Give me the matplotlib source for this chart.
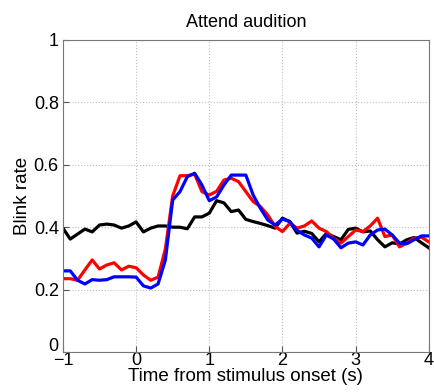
import numpy as np
import matplotlib
matplotlib.use('Agg')
from matplotlib import pyplot as plt
from matplotlib.ticker import FuncFormatter
from matplotlib.transforms import ScaledTranslation

plt.rcParams['font.family'] = ['Liberation Sans', 'DejaVu Sans']

time = np.round(np.arange(-1.0, 4.0001, 0.1), 1)

red = [0.235, 0.235, 0.23, 0.263, 0.295, 0.266, 0.279, 0.286, 0.263, 0.275,
       0.27, 0.247, 0.23, 0.24, 0.33, 0.50, 0.565, 0.565, 0.57, 0.514,
       0.503, 0.515, 0.551, 0.557, 0.546, 0.514, 0.482, 0.466, 0.439, 0.402,
       0.386, 0.412, 0.397, 0.404, 0.42, 0.397, 0.386, 0.365, 0.349, 0.37,
       0.391, 0.386, 0.404, 0.429, 0.37, 0.375, 0.337, 0.349, 0.365, 0.368,
       0.353]

blue = [0.26, 0.26, 0.23, 0.218, 0.232, 0.23, 0.232, 0.241, 0.241, 0.241,
        0.24, 0.212, 0.205, 0.218, 0.295, 0.487, 0.514, 0.562, 0.573, 0.535,
        0.485, 0.497, 0.535, 0.567, 0.567, 0.567, 0.503, 0.46, 0.423, 0.407,
        0.426, 0.418, 0.39, 0.375, 0.365, 0.337, 0.375, 0.362, 0.334, 0.349,
        0.353, 0.343, 0.375, 0.391, 0.394, 0.375, 0.349, 0.347, 0.36, 0.372,
        0.372]

black = [0.397, 0.362, 0.378, 0.394, 0.385, 0.407, 0.41, 0.407, 0.397, 0.404,
         0.417, 0.385, 0.397, 0.404, 0.404, 0.40, 0.40, 0.395, 0.433, 0.433,
         0.445, 0.485, 0.478, 0.45, 0.455, 0.425, 0.418, 0.412, 0.405, 0.397,
         0.429, 0.418, 0.381, 0.387, 0.38, 0.353, 0.38, 0.37, 0.36, 0.393,
         0.397, 0.385, 0.388, 0.36, 0.337, 0.35, 0.346, 0.36, 0.367, 0.35,
         0.334]

fig = plt.figure(figsize=(4.34, 3.92), dpi=100)
ax = fig.add_axes([0.145, 0.102, 0.843, 0.796])

ax.plot(time, black, color='black', lw=2.3)
ax.plot(time, red, color='#ff0000', lw=2.3)
ax.plot(time, blue, color='#0000ff', lw=2.3)

ax.set_xlim(-1, 4)
ax.set_ylim(0, 1)
ax.set_xticks([-1, 0, 1, 2, 3, 4])
ax.set_yticks([0, 0.2, 0.4, 0.6, 0.8, 1])
ax.yaxis.set_major_formatter(FuncFormatter(lambda v, p: ('%g' % v)))
ax.grid(True, linestyle=':', color='#c0c0c0', lw=0.8)
ax.tick_params(direction='in', labelsize=13, length=4, color='#555555')
ax.tick_params(axis='x', pad=0)
ax.tick_params(axis='y', pad=3)
for s in ax.spines.values():
    s.set_color('#777777')
    s.set_linewidth(0.8)

# nudge the y "0" up a bit so it sits above the x "-1" like matlab does
fig.canvas.draw()
ylab0 = ax.get_yticklabels()[0]
ylab0.set_transform(ylab0.get_transform() + ScaledTranslation(0, 8 / 100, fig.dpi_scale_trans))

ax.set_title('Attend audition', fontsize=13, pad=9)
ax.set_xlabel('Time from stimulus onset (s)', fontsize=13.5, labelpad=-1)
ax.set_ylabel('Blink rate', fontsize=13.5, labelpad=2)

fig.savefig('out.png', dpi=100)
